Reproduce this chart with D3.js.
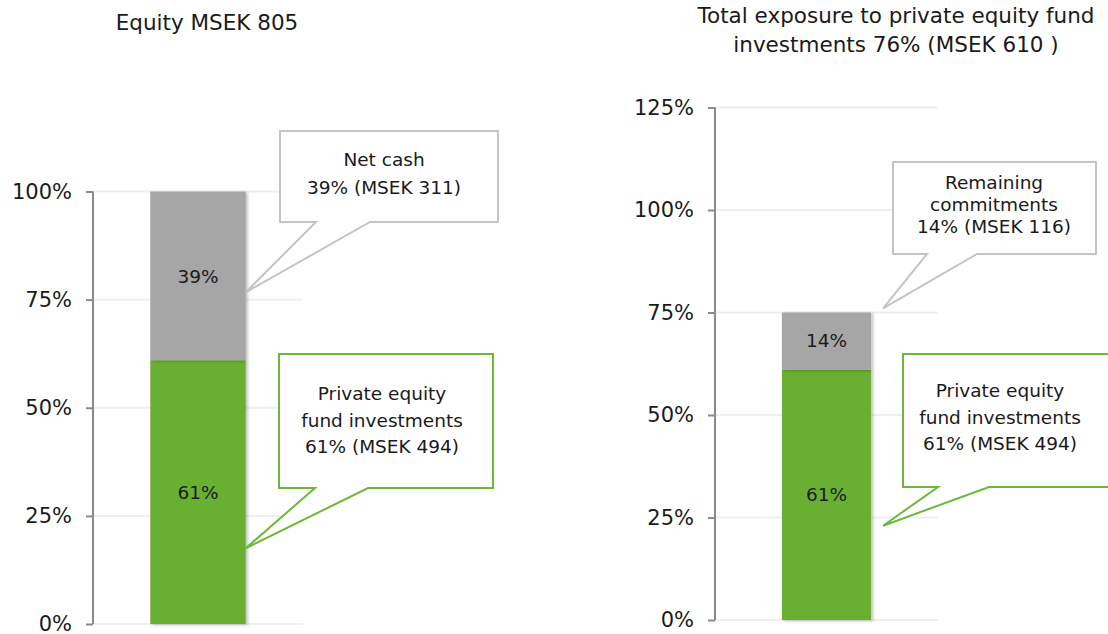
<!DOCTYPE html>
<html>
<head>
<meta charset="utf-8">
<script src="https://cdn.jsdelivr.net/npm/d3@7"></script>
<style>
  body { margin: 0; background: #fff; }
  svg text { font-family: "DejaVu Sans", Verdana, sans-serif; fill: #1a1a1a; }
</style>
</head>
<body>
<svg id="chart" width="1108" height="634"></svg>
<script>
// left panel: equity split
var leftTitle = ["Equity MSEK 805"];
var leftSeries = ["Private equity fund investments", "Net cash"];
var leftValues = [61, 39];
var leftTicks = [0, 25, 50, 75, 100];
var leftCallouts = [
  ["Net cash", "39% (MSEK 311)"],
  ["Private equity", "fund investments", "61% (MSEK 494)"]
];

// right panel: exposure
var rightTitle = ["Total exposure to private equity fund", "investments 76% (MSEK 610 )"];
var rightSeries = ["Private equity fund investments", "Remaining commitments"];
var rightValues = [61, 14];
var rightTicks = [0, 25, 50, 75, 100, 125];
var rightCallouts = [
  ["Remaining", "commitments", "14% (MSEK 116)"],
  ["Private equity", "fund investments", "61% (MSEK 494)"]
];

var colors = ["#69b033", "#a6a6a6"];
var borderColors = ["#6cb83a", "#c4c4c4"];

var svg = d3.select("#chart");

var defs = svg.append("defs");
var f = defs.append("filter").attr("id", "shadow")
  .attr("x", "-10%").attr("y", "-10%").attr("width", "130%").attr("height", "120%");
f.append("feDropShadow").attr("dx", 2).attr("dy", 1).attr("stdDeviation", 1.5)
  .attr("flood-color", "#000").attr("flood-opacity", 0.25);

function callout(g, box, tip, lines, color, lineY, textX) {
  // box: [x0, y0, x1, y1, pointer base left, pointer base right]
  var p = d3.path();
  p.moveTo(box[0], box[1]);
  p.lineTo(box[2], box[1]);
  p.lineTo(box[2], box[3]);
  p.lineTo(box[5], box[3]);
  p.lineTo(tip[0], tip[1]);
  p.lineTo(box[4], box[3]);
  p.lineTo(box[0], box[3]);
  p.closePath();
  g.append("path").attr("d", p.toString())
    .attr("fill", "#fff").attr("stroke", color).attr("stroke-width", 2);
  g.selectAll(null).data(lines).enter().append("text")
    .attr("x", textX)
    .attr("y", function(d, i) { return lineY[i]; })
    .attr("text-anchor", "middle")
    .attr("dominant-baseline", "central")
    .style("font-size", "18.5px")
    .text(function(d) { return d; });
}

function drawPanel(opt) {
  var g = svg.append("g");
  var y = d3.scaleLinear().domain([0, opt.ticks[opt.ticks.length - 1]])
    .range([opt.y0, opt.y1]);
  var x = d3.scaleBand().domain(["bar"]).range([opt.axisX, opt.gridEnd])
    .paddingInner(0).paddingOuter(opt.pad);

  // gridlines
  g.selectAll(".grid").data(opt.ticks).enter().append("line")
    .attr("x1", opt.axisX).attr("x2", opt.gridEnd)
    .attr("y1", function(d) { return y(d); })
    .attr("y2", function(d) { return y(d); })
    .attr("stroke", "#efefef").attr("stroke-width", 2);

  var axis = d3.axisLeft(y).tickValues(opt.ticks)
    .tickFormat(function(d) { return d + "%"; })
    .tickSize(7).tickPadding(14);
  var ax = g.append("g").attr("transform", "translate(" + opt.axisX + ",0)").call(axis);
  ax.select(".domain").attr("stroke", "#8a8a8a").attr("stroke-width", 2)
    .attr("d", "M0," + y(0) + "V" + y(opt.ticks[opt.ticks.length - 1]));
  ax.selectAll(".tick line").attr("stroke", "#8a8a8a").attr("stroke-width", 2);
  ax.selectAll(".tick text").style("font-size", "21px").attr("fill", "#1a1a1a")
    .style("font-family", "'DejaVu Sans', Verdana, sans-serif");

  // stacked bar
  var stack = [];
  var acc = 0;
  opt.values.forEach(function(v, i) {
    stack.push({ v: v, lo: acc, hi: acc + v, i: i });
    acc += v;
  });
  var bx = x("bar"), bw = x.bandwidth();
  g.selectAll(".seg").data(stack).enter().append("rect")
    .attr("x", bx).attr("width", bw)
    .attr("y", function(d) { return y(d.hi); })
    .attr("height", function(d) { return y(d.lo) - y(d.hi); })
    .attr("fill", function(d) { return colors[d.i]; })
    .attr("filter", "url(#shadow)");
  g.selectAll(".lab").data(stack).enter().append("text")
    .attr("x", bx + bw / 2)
    .attr("y", function(d) { return (y(d.lo) + y(d.hi)) / 2 + opt.labShift[d.i]; })
    .attr("text-anchor", "middle").attr("dominant-baseline", "central")
    .style("font-size", "18.5px")
    .text(function(d) { return d.v + "%"; });

  // title
  g.selectAll(".title").data(opt.title).enter().append("text")
    .attr("x", opt.titleX)
    .attr("y", function(d, i) { return opt.titleY + i * 29; })
    .attr("text-anchor", "middle").attr("dominant-baseline", "central")
    .style("font-size", "21.5px")
    .text(function(d) { return d; });

  // callouts, tip just right of the bar
  opt.callouts.forEach(function(c, k) {
    var s = opt.calloutSeries[k];
    callout(g, c.box, [bx + bw + opt.tipDx, y(c.tipValue)], opt.calloutText[s], borderColors[s], c.lineY, c.textX);
  });
}

drawPanel({
  values: leftValues, ticks: leftTicks, title: leftTitle,
  axisX: 93, gridEnd: 303, pad: 0.6, y0: 624, y1: 191.5,
  titleX: 207, titleY: 22, labShift: [0, 1], tipDx: 0,
  calloutText: [leftCallouts[1], leftCallouts[0]],
  calloutSeries: [1, 0],
  callouts: [
    { box: [280, 131, 498, 222, 316, 370], tipValue: 76.7, lineY: [159, 187], textX: 384 },
    { box: [279, 354, 493, 488, 315, 368], tipValue: 17.5, lineY: [393, 420, 446], textX: 382 }
  ]
});

drawPanel({
  values: rightValues, ticks: rightTicks, title: rightTitle,
  axisX: 715, gridEnd: 938, pad: 0.75, y0: 620, y1: 107.5,
  titleX: 896, titleY: 15, labShift: [0, -1], tipDx: 12,
  calloutText: [rightCallouts[1], rightCallouts[0]],
  calloutSeries: [1, 0],
  callouts: [
    { box: [893, 162, 1096, 254, 927, 977], tipValue: 76, lineY: [182, 204, 226], textX: 994 },
    { box: [903, 354, 1118, 487, 938, 989], tipValue: 23, lineY: [390, 417, 443], textX: 1000 }
  ]
});
</script>
</body>
</html>
